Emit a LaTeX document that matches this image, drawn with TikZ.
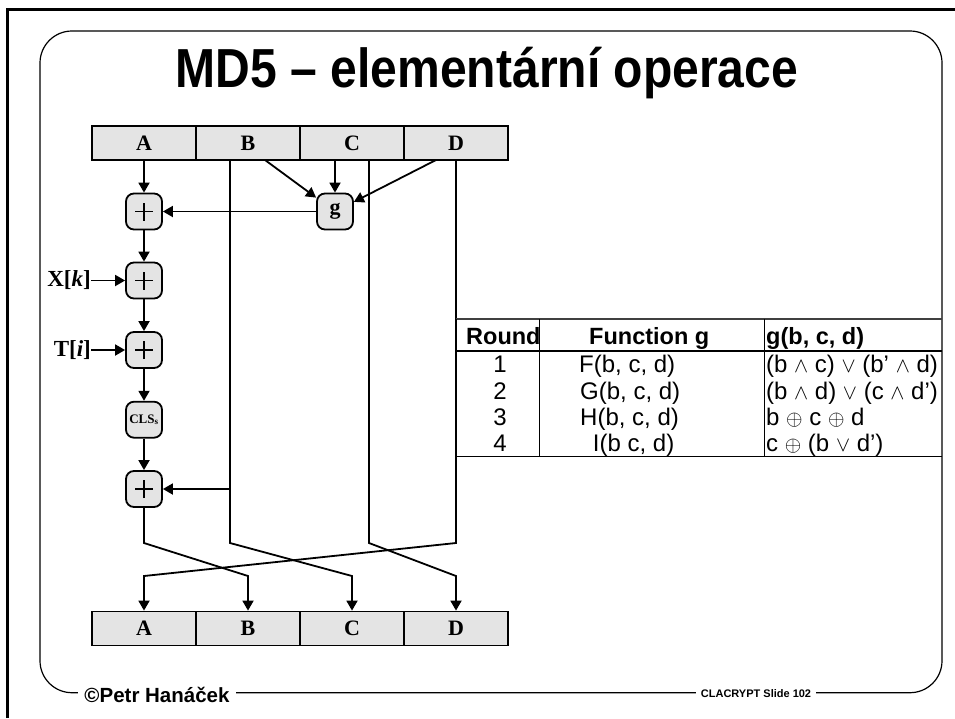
\documentclass[tikz,border=0pt]{standalone}
\usepackage{fontspec}
\setmainfont{Liberation Serif}
\setsansfont{Liberation Sans}
\usetikzlibrary{arrows.meta}
\definecolor{boxgray}{RGB}{228,228,228}
% logic operators, set a little smaller than the surrounding text
\newcommand{\opand}{\scalebox{0.85}{$\wedge$}}
\newcommand{\opor}{\scalebox{0.85}{$\vee$}}
\newcommand{\opxor}{\scalebox{0.85}{$\oplus$}}
\begin{document}
\begin{tikzpicture}[x=1pt,y=-1pt,
  wire/.style={line width=1.8pt},
  arr/.style={wire,-{Triangle[length=10pt,width=11pt]}},
  reg/.style={draw,line width=1.8pt,fill=boxgray,minimum width=104pt,minimum height=34pt,
    inner sep=0pt,font=\fontsize{22}{22}\selectfont\bfseries},
  opbox/.style={draw,line width=1.8pt,fill=boxgray,rounded corners=8pt,minimum width=36pt,
    minimum height=36pt,inner sep=0pt,font=\fontsize{22}{22}\selectfont\bfseries},
  plusbox/.style={opbox,path picture={
    \draw[line width=1.3pt] ([xshift=-9pt]path picture bounding box.center) -- ([xshift=9pt]path picture bounding box.center);
    \draw[line width=1.3pt] ([yshift=-9pt]path picture bounding box.center) -- ([yshift=9pt]path picture bounding box.center);}},
  inlabel/.style={anchor=east,inner sep=0pt,font=\fontsize{23}{23}\selectfont\bfseries},
  tabtext/.style={inner sep=0pt,font=\fontsize{24}{26}\sffamily},
  tabhead/.style={tabtext,font=\fontsize{23.5}{26}\sffamily\bfseries},
  tabline/.style={line width=1.2pt},
]
\useasboundingbox (0,0) rectangle (955,718);

% slide frame
\draw[line width=3pt] (7.5,718) -- (7.5,9.5) -- (955,9.5);
\draw[line width=1.2pt,rounded corners=32pt] (40,31) rectangle (942,692.7);

% title, set in a narrowed bold sans
\node[font=\fontsize{55}{55}\sffamily\bfseries] (title) at (487,73) {\scalebox{0.874}[1]{MD5 – elementární operace}};

% footer
\node[fill=white,inner xsep=6pt,inner ysep=2pt,font=\fontsize{20.5}{21}\sffamily\bfseries] (author) at (157,695) {©Petr Hanáček};
\node[fill=white,inner xsep=5pt,inner ysep=2pt,font=\fontsize{11}{11}\sffamily\bfseries] (slideno) at (756,694) {CLACRYPT Slide 102};

% input registers
\node[reg] (tA) at (144,143) {A};
\node[reg] (tB) at (248,143) {B};
\node[reg] (tC) at (352,143) {C};
\node[reg] (tD) at (456,143) {D};

% output registers
\node[reg] (bA) at (144,628.5) {A};
\node[reg] (bB) at (248,628.5) {B};
\node[reg] (bC) at (352,628.5) {C};
\node[reg] (bD) at (456,628.5) {D};

% operation boxes
\node[plusbox] (p1) at (144,211.5) {};
\node[plusbox] (p2) at (144,280.5) {};
\node[plusbox] (p3) at (144,350) {};
\node[opbox] (cls) at (144,419.7) {\fontsize{13}{13}\selectfont CLS$_{\mathbf{s}}$};
\node[plusbox] (p4) at (144,489) {};
\node[opbox] (g) at (335,211.5) {g};

% additive inputs
\node[inlabel] (xk) at (91,280.5) {X[\textit{k}]};
\node[inlabel] (ti) at (91,350) {T[\textit{i}]};

% tap points on the input registers
\coordinate (gB) at (265,160);
\coordinate (gD) at (436,160);
\coordinate (Bsrc) at (230,160);
\coordinate (Csrc) at (369,160);
\coordinate (Dsrc) at (456,160);

% bends of the output permutation
\coordinate (Ak1) at (144,543);
\coordinate (Ak2) at (248,576);
\coordinate (Bk1) at (230,543);
\coordinate (Bk2) at (352,576);
\coordinate (Ck1) at (369,543);
\coordinate (Ck2) at (456,576);
\coordinate (Dk1) at (456,543);
\coordinate (Dk2) at (144,576);

% main chain
\draw[arr] (tA) -- (p1);
\draw[arr] (p1) -- (p2);
\draw[arr] (p2) -- (p3);
\draw[arr] (p3) -- (cls);
\draw[arr] (cls) -- (p4);
\draw[arr] (xk) -- (p2);
\draw[arr] (ti) -- (p3);

% function g
\draw[arr] (gB) -- (g);
\draw[arr] (tC.south -| g) -- (g);
\draw[arr] (gD) -- (g);
\draw[arr] (g) -- (p1);

% register permutation
\draw[arr] (p4) -- (Ak1) -- (Ak2) -- (bB);
\draw[arr] (Bsrc) -- (Bk1) -- (Bk2) -- (bC);
\draw[arr] (Csrc) -- (Ck1) -- (Ck2) -- (bD);
\draw[arr] (Dsrc) -- (Dk1) -- (Dk2) -- (bA);
\draw[arr] (Bsrc |- p4) -- (p4);

% round function table
\coordinate (tabNW) at (456,319);
\coordinate (tabSE) at (942,456.7);
\draw[tabline,draw=black!75,line width=1.6pt] (tabNW) -- (tabNW -| tabSE);
\draw[tabline] (tabNW |- 0,351) -- (tabSE |- 0,351);
\draw[tabline] (tabNW |- tabSE) -- (tabSE);
\draw[tabline] (tabNW) -- (tabNW |- tabSE);
\draw[tabline] (539.3,319) -- (539.3,456.7);
\draw[tabline] (764.3,319) -- (764.3,456.7);

\node[tabhead,anchor=base west] (hRound) at (466,344.7) {Round};
\node[tabhead,anchor=base west] (hFun) at (589,344.7) {Function g};
\node[tabhead,anchor=base west] (hDef) at (766,344.7) {g(b, c, d)};

\node[tabtext,anchor=base] (r1) at (500,372.5) {1};
\node[tabtext,anchor=base] (r2) at (500,399) {2};
\node[tabtext,anchor=base] (r3) at (500,425.7) {3};
\node[tabtext,anchor=base] (r4) at (500,451.3) {4};

\node[tabtext,anchor=base west] (f1) at (579,372.5) {F(b, c, d)};
\node[tabtext,anchor=base west] (f2) at (580,399) {G(b, c, d)};
\node[tabtext,anchor=base west] (f3) at (580,425.7) {H(b, c, d)};
\node[tabtext,anchor=base west] (f4) at (592.7,451.3) {I(b c, d)};

\node[tabtext,anchor=base west] (d1) at (766,372.5) {(b \opand{} c) \opor{} (b’ \opand{} d)};
\node[tabtext,anchor=base west] (d2) at (766,399) {(b \opand{} d) \opor{} (c \opand{} d’)};
\node[tabtext,anchor=base west] (d3) at (766,425.7) {b \opxor{} c \opxor{} d};
\node[tabtext,anchor=base west] (d4) at (766,451.3) {c \opxor{} (b \opor{} d’)};
\end{tikzpicture}
\end{document}
